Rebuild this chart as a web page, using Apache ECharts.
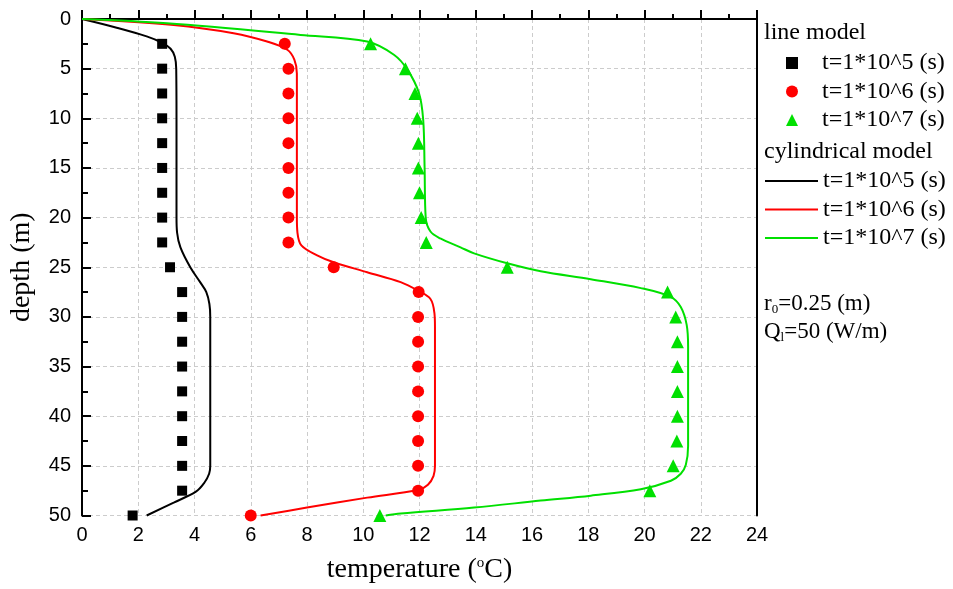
<!DOCTYPE html>
<html><head><meta charset="utf-8">
<script src="https://cdn.jsdelivr.net/npm/echarts@6/dist/echarts.min.js"></script>
<style>html,body{margin:0;padding:0;background:#fff}#c{width:953px;height:589px}</style>
</head><body><div id="c"></div>
<script>
// line model (scatter) depths and temperatures
const pointDepths = [2.5,5,7.5,10,12.5,15,17.5,20,22.5,25,27.5,30,32.5,35,37.5,40,42.5,45,47.5,50];
const lineT5 = [2.85,2.85,2.85,2.85,2.85,2.85,2.85,2.85,2.85,3.13,3.56,3.56,3.56,3.56,3.56,3.56,3.56,3.56,3.56,1.8];
const lineT6 = [7.21,7.34,7.34,7.34,7.34,7.34,7.34,7.34,7.34,8.95,11.97,11.95,11.95,11.95,11.95,11.95,11.95,11.95,11.95,6.0];
const lineT7 = [10.26,11.5,11.84,11.92,11.96,11.96,12.0,12.06,12.24,15.12,20.82,21.11,21.17,21.17,21.17,21.17,21.15,21.02,20.19,10.59];

// cylindrical model curves: [temperature, depth]
const cylT5 = [[0,0],[1.2,0.85],[2.3,1.75],[2.85,2.4],[3.15,3.0],[3.3,3.8],[3.35,5],[3.36,10],[3.36,20],[3.38,21.5],[3.5,23],[3.85,25],[4.2,26.5],[4.42,27.5],[4.53,28.7],[4.56,30],[4.56,45],[4.52,45.8],[4.35,46.7],[4.05,47.6],[3.26,48.7],[2.3,50]];
const cylT6 = [[0,0],[3.26,0.6],[5.39,1.43],[6.58,2.27],[7.3,3.1],[7.55,4.1],[7.64,5.5],[7.64,20],[7.66,21.5],[7.8,22.8],[8.36,23.8],[8.95,24.5],[10.14,25.5],[11.33,26.5],[11.97,27.4],[12.39,28.2],[12.53,29.6],[12.55,31],[12.55,45],[12.5,46],[12.3,46.9],[11.97,47.4],[10.14,48.2],[8.0,49.2],[6.35,50]];
const cylT7 = [[0,0],[3.02,0.43],[7.77,1.6],[10.14,2.27],[11.09,3.6],[11.57,5.1],[11.98,7.45],[12.13,10.1],[12.18,14.8],[12.22,20],[12.39,21.4],[12.74,22.1],[13.46,23.0],[13.94,23.6],[15.12,24.6],[16.31,25.4],[18.09,26.2],[19.87,27.1],[20.94,28.0],[21.29,29.0],[21.5,30.8],[21.55,33],[21.55,43],[21.47,44.9],[21.29,45.8],[20.94,46.5],[19.87,47.35],[18.09,48.0],[16.31,48.5],[13.94,49.2],[11.33,49.8],[10.8,50]];

const xTicks = {min:0, max:24, interval:2};
const yTicks = {min:0, max:50, interval:5};

const names = ['t=1*10^5 (s)','t=1*10^6 (s)','t=1*10^7 (s)'];
const colors = ['#000000','#ff0000','#00e000'];

function pts(xs){ return xs.map((v,i)=>[v,pointDepths[i]]); }

const serif = '"Liberation Serif","Times New Roman",serif';
const sans = '"Liberation Sans",Arial,sans-serif';

const chart = echarts.init(document.getElementById('c'), null, {renderer:'canvas'});
const scatterSyms = ['rect','circle','triangle'];
const scatterSizes = [10,12,13];
const scatterData = [lineT5,lineT6,lineT7];
const lineData = [cylT5,cylT6,cylT7];

const series = [];
for (let i=0;i<3;i++){
  series.push({
    name:'L'+names[i], type:'line', data:lineData[i], symbol:'none', smooth:0.35,
    lineStyle:{color:colors[i], width:2}, itemStyle:{color:colors[i]}, z:2, clip:false
  });
}
for (let i=0;i<3;i++){
  series.push({
    name:'P'+names[i], type:'scatter', data:pts(scatterData[i]), symbol:scatterSyms[i],
    symbolSize:scatterSizes[i], itemStyle:{color:colors[i], opacity:1}, z:3
  });
}

const legendText = {fontFamily:serif, fontSize:24, color:'#000', lineHeight:28};
const rich = {a:{fontFamily:serif, fontSize:23, fontWeight:'normal', color:'#000'}, s:{fontFamily:serif, fontSize:13, fontWeight:'normal', color:'#000', verticalAlign:'bottom', padding:[12,0,0,0]}};
chart.setOption({
  animation:false,
  backgroundColor:'#fff',
  grid:{left:82, top:19, right:196, bottom:71},
  xAxis:[{
    type:'value', min:xTicks.min, max:xTicks.max, interval:xTicks.interval,
    name:'temperature ({sup|o}C)', nameLocation:'middle', nameGap:40,
    nameTextStyle:{fontFamily:serif, fontSize:28, color:'#000', rich:{sup:{fontFamily:serif, fontSize:15, color:'#000', verticalAlign:'top', padding:[0,0,14,0]}}},
    axisLine:{show:true, lineStyle:{color:'#000', width:2}},
    axisTick:{show:true, inside:true, length:9, lineStyle:{color:'#000', width:2}},
    minorTick:{show:true, splitNumber:2, length:5, lineStyle:{color:'#000', width:2}},
    axisLabel:{fontFamily:sans, fontSize:20, color:'#000', margin:10},
    splitLine:{show:true, lineStyle:{color:'#cccccc', width:1, type:[4,3]}}
  },{
    type:'value', position:'top', min:xTicks.min, max:xTicks.max,
    axisLine:{show:true, onZero:false, lineStyle:{color:'#000', width:2}},
    axisTick:{show:false}, axisLabel:{show:false}, splitLine:{show:false}
  }],
  yAxis:[{
    type:'value', inverse:true, min:yTicks.min, max:yTicks.max, interval:yTicks.interval,
    name:'depth (m)', nameLocation:'middle', nameGap:46, nameRotate:90,
    nameTextStyle:{fontFamily:serif, fontSize:28, color:'#000'},
    axisLine:{show:true, lineStyle:{color:'#000', width:2}},
    axisTick:{show:true, inside:true, length:9, lineStyle:{color:'#000', width:2}},
    minorTick:{show:true, splitNumber:2, length:6, lineStyle:{color:'#000', width:2}},
    axisLabel:{fontFamily:sans, fontSize:20, color:'#000', margin:11},
    splitLine:{show:true, lineStyle:{color:'#cccccc', width:1, type:[4,3]}}
  },{
    type:'value', position:'right', inverse:true, min:yTicks.min, max:yTicks.max,
    axisLine:{show:true, onZero:false, lineStyle:{color:'#000', width:2}},
    axisTick:{show:false}, axisLabel:{show:false}, splitLine:{show:false}
  }],
  title:[
    {text:'line model', left:764, top:21, textStyle:{fontFamily:serif, fontSize:24, fontWeight:'normal', color:'#000'}, padding:0},
    {text:'cylindrical model', left:764, top:140, textStyle:{fontFamily:serif, fontSize:24, fontWeight:'normal', color:'#000'}, padding:0},
    {text:'{a|r}{s|0}{a|=0.25 (m)}', left:764, top:291, padding:0, textStyle:{fontWeight:'normal', rich:rich}},
    {text:'{a|Q}{s|l}{a|=50 (W/m)}', left:764, top:319, padding:0, textStyle:{fontWeight:'normal', rich:rich}}
  ],
  legend:[{
    orient:'vertical', left:786, top:49, padding:0, itemGap:0.5,
    itemWidth:12, itemHeight:12, data:series.slice(3).map(s=>s.name),
    formatter:n=>n.slice(1), textStyle:Object.assign({padding:[0,0,0,19]}, legendText), selectedMode:false
  },{
    orient:'vertical', left:764, top:167, padding:0, itemGap:0.5,
    itemWidth:53, itemHeight:14, data:series.slice(0,3).map(s=>s.name),
    itemStyle:{opacity:0}, lineStyle:{width:2},
    formatter:n=>n.slice(1), textStyle:legendText, selectedMode:false
  }],
  series:series
});
</script></body></html>
